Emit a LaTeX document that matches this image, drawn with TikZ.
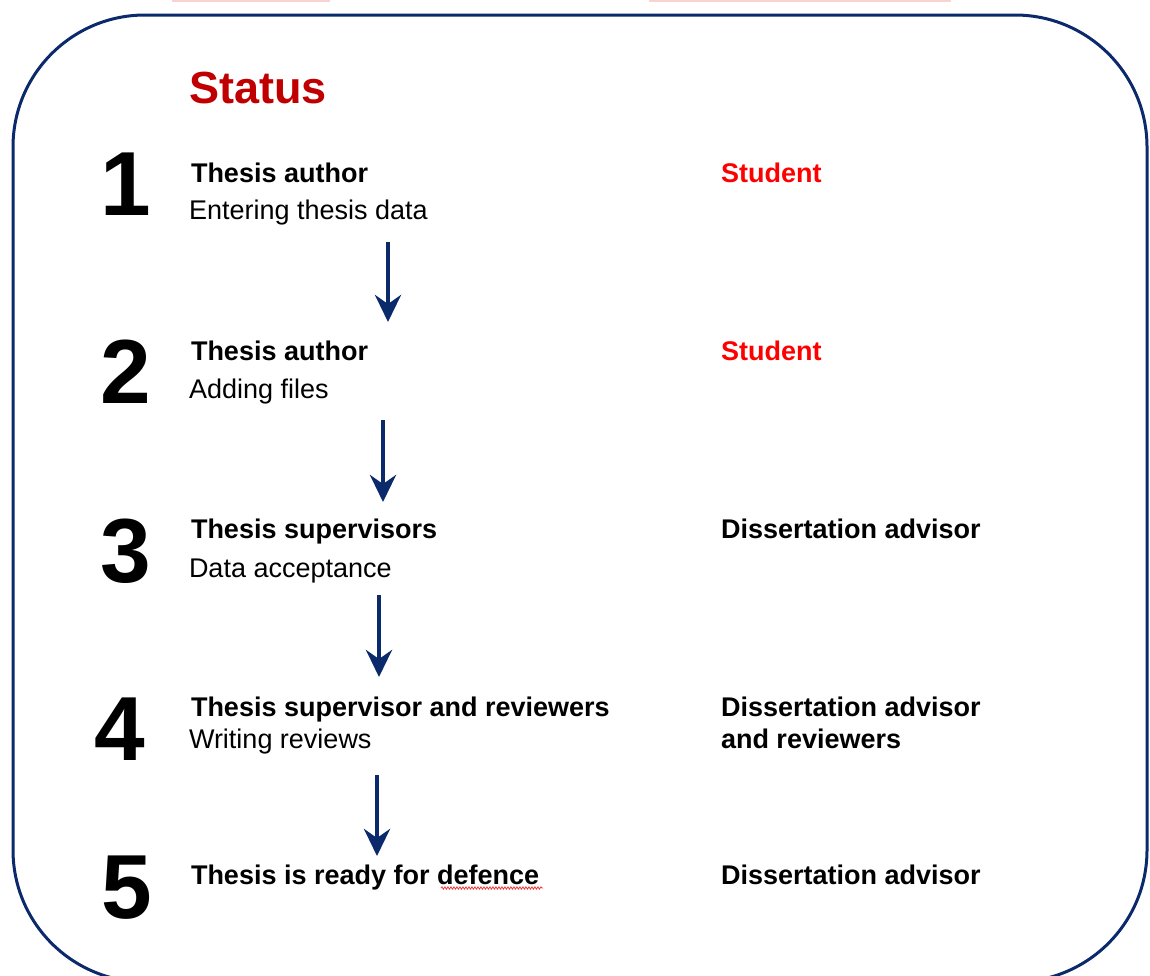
\documentclass[tikz,border=0pt]{standalone}
\usepackage{fontspec}
\setmainfont{Liberation Sans}
\usetikzlibrary{arrows.meta,decorations.pathmorphing}
\definecolor{navy}{HTML}{0B2A6B}
\definecolor{statusred}{HTML}{C00000}
\definecolor{rolered}{HTML}{FF0000}
\definecolor{faintpink}{HTML}{F9D3D3}
\definecolor{spellred}{HTML}{F03C3C}
\begin{document}
\begin{tikzpicture}[x=1pt,y=-1pt,
  every node/.style={inner sep=0pt, outer sep=0pt},
  digit/.style={anchor=base, font=\fontsize{91}{91}\selectfont\bfseries},
  title/.style={anchor=base west, font=\fontsize{27}{32}\selectfont\bfseries},
  sub/.style={anchor=base west, font=\fontsize{27}{32}\selectfont},
  role/.style={anchor=base west, font=\fontsize{27}{32}\selectfont\bfseries, align=left},
  flow/.style={navy, line width=4.5pt, -{Stealth[length=27pt,width=26pt,inset=9pt]}}
]
\useasboundingbox (0,0) rectangle (1150,975);

% faint marks along the top edge
\fill[faintpink] (172,0) rectangle (330,2);
\fill[faintpink] (649,0) rectangle (951,2);

% rounded frame (its lower edge runs just past the page)
\draw[navy, line width=3pt, rounded corners=132pt] (13,15) rectangle (1147,982);

% heading
\node[anchor=base west, text=statusred, font=\fontsize{45}{50}\selectfont\bfseries] (status) at (189,103) {Status};

% step numbers
\node[digit] (d1) at (126,215) {1};
\node[digit] (d2) at (126,403) {2};
\node[digit] (d3) at (126,582) {3};
\node[digit] (d4) at (120,760) {4};
\node[digit] (d5) at (127,918) {5};

% step titles and descriptions
\node[title] (t1) at (191,182) {Thesis author};
\node[sub]   (s1) at (189,219) {Entering thesis data};
\node[title] (t2) at (191,360) {Thesis author};
\node[sub]   (s2) at (189,398) {Adding files};
\node[title] (t3) at (191,538) {Thesis supervisors};
\node[sub]   (s3) at (189,577) {Data acceptance};
\node[title] (t4) at (191,716) {Thesis supervisor and reviewers};
\node[sub]   (s4) at (189,748) {Writing reviews};
\node[title] (t5) at (191,884) {Thesis is ready for defence};

% roles
\node[role, text=rolered] (r1) at (721,182) {Student};
\node[role, text=rolered] (r2) at (721,360) {Student};
\node[role] (r3) at (721,538) {Dissertation advisor};
\node[role] (r4) at (721,748) {Dissertation advisor\\and reviewers};
\node[role] (r5) at (721,884) {Dissertation advisor};

% spelling mark under "defence"
\draw[spellred, line width=0.8pt, decorate, decoration={snake, amplitude=1.2pt, segment length=3pt}] (441,888) -- (543,888);

% arrow end points
\coordinate (a1s) at (388,242);
\coordinate (a1e) at (388,322);
\coordinate (a2s) at (383,420);
\coordinate (a2e) at (383,502);
\coordinate (a3s) at (379,595);
\coordinate (a3e) at (379,677);
\coordinate (a4s) at (377,775);
\coordinate (a4e) at (377,856);

\draw[flow] (a1s) -- (a1e);
\draw[flow] (a2s) -- (a2e);
\draw[flow] (a3s) -- (a3e);
\draw[flow] (a4s) -- (a4e);
\end{tikzpicture}
\end{document}
